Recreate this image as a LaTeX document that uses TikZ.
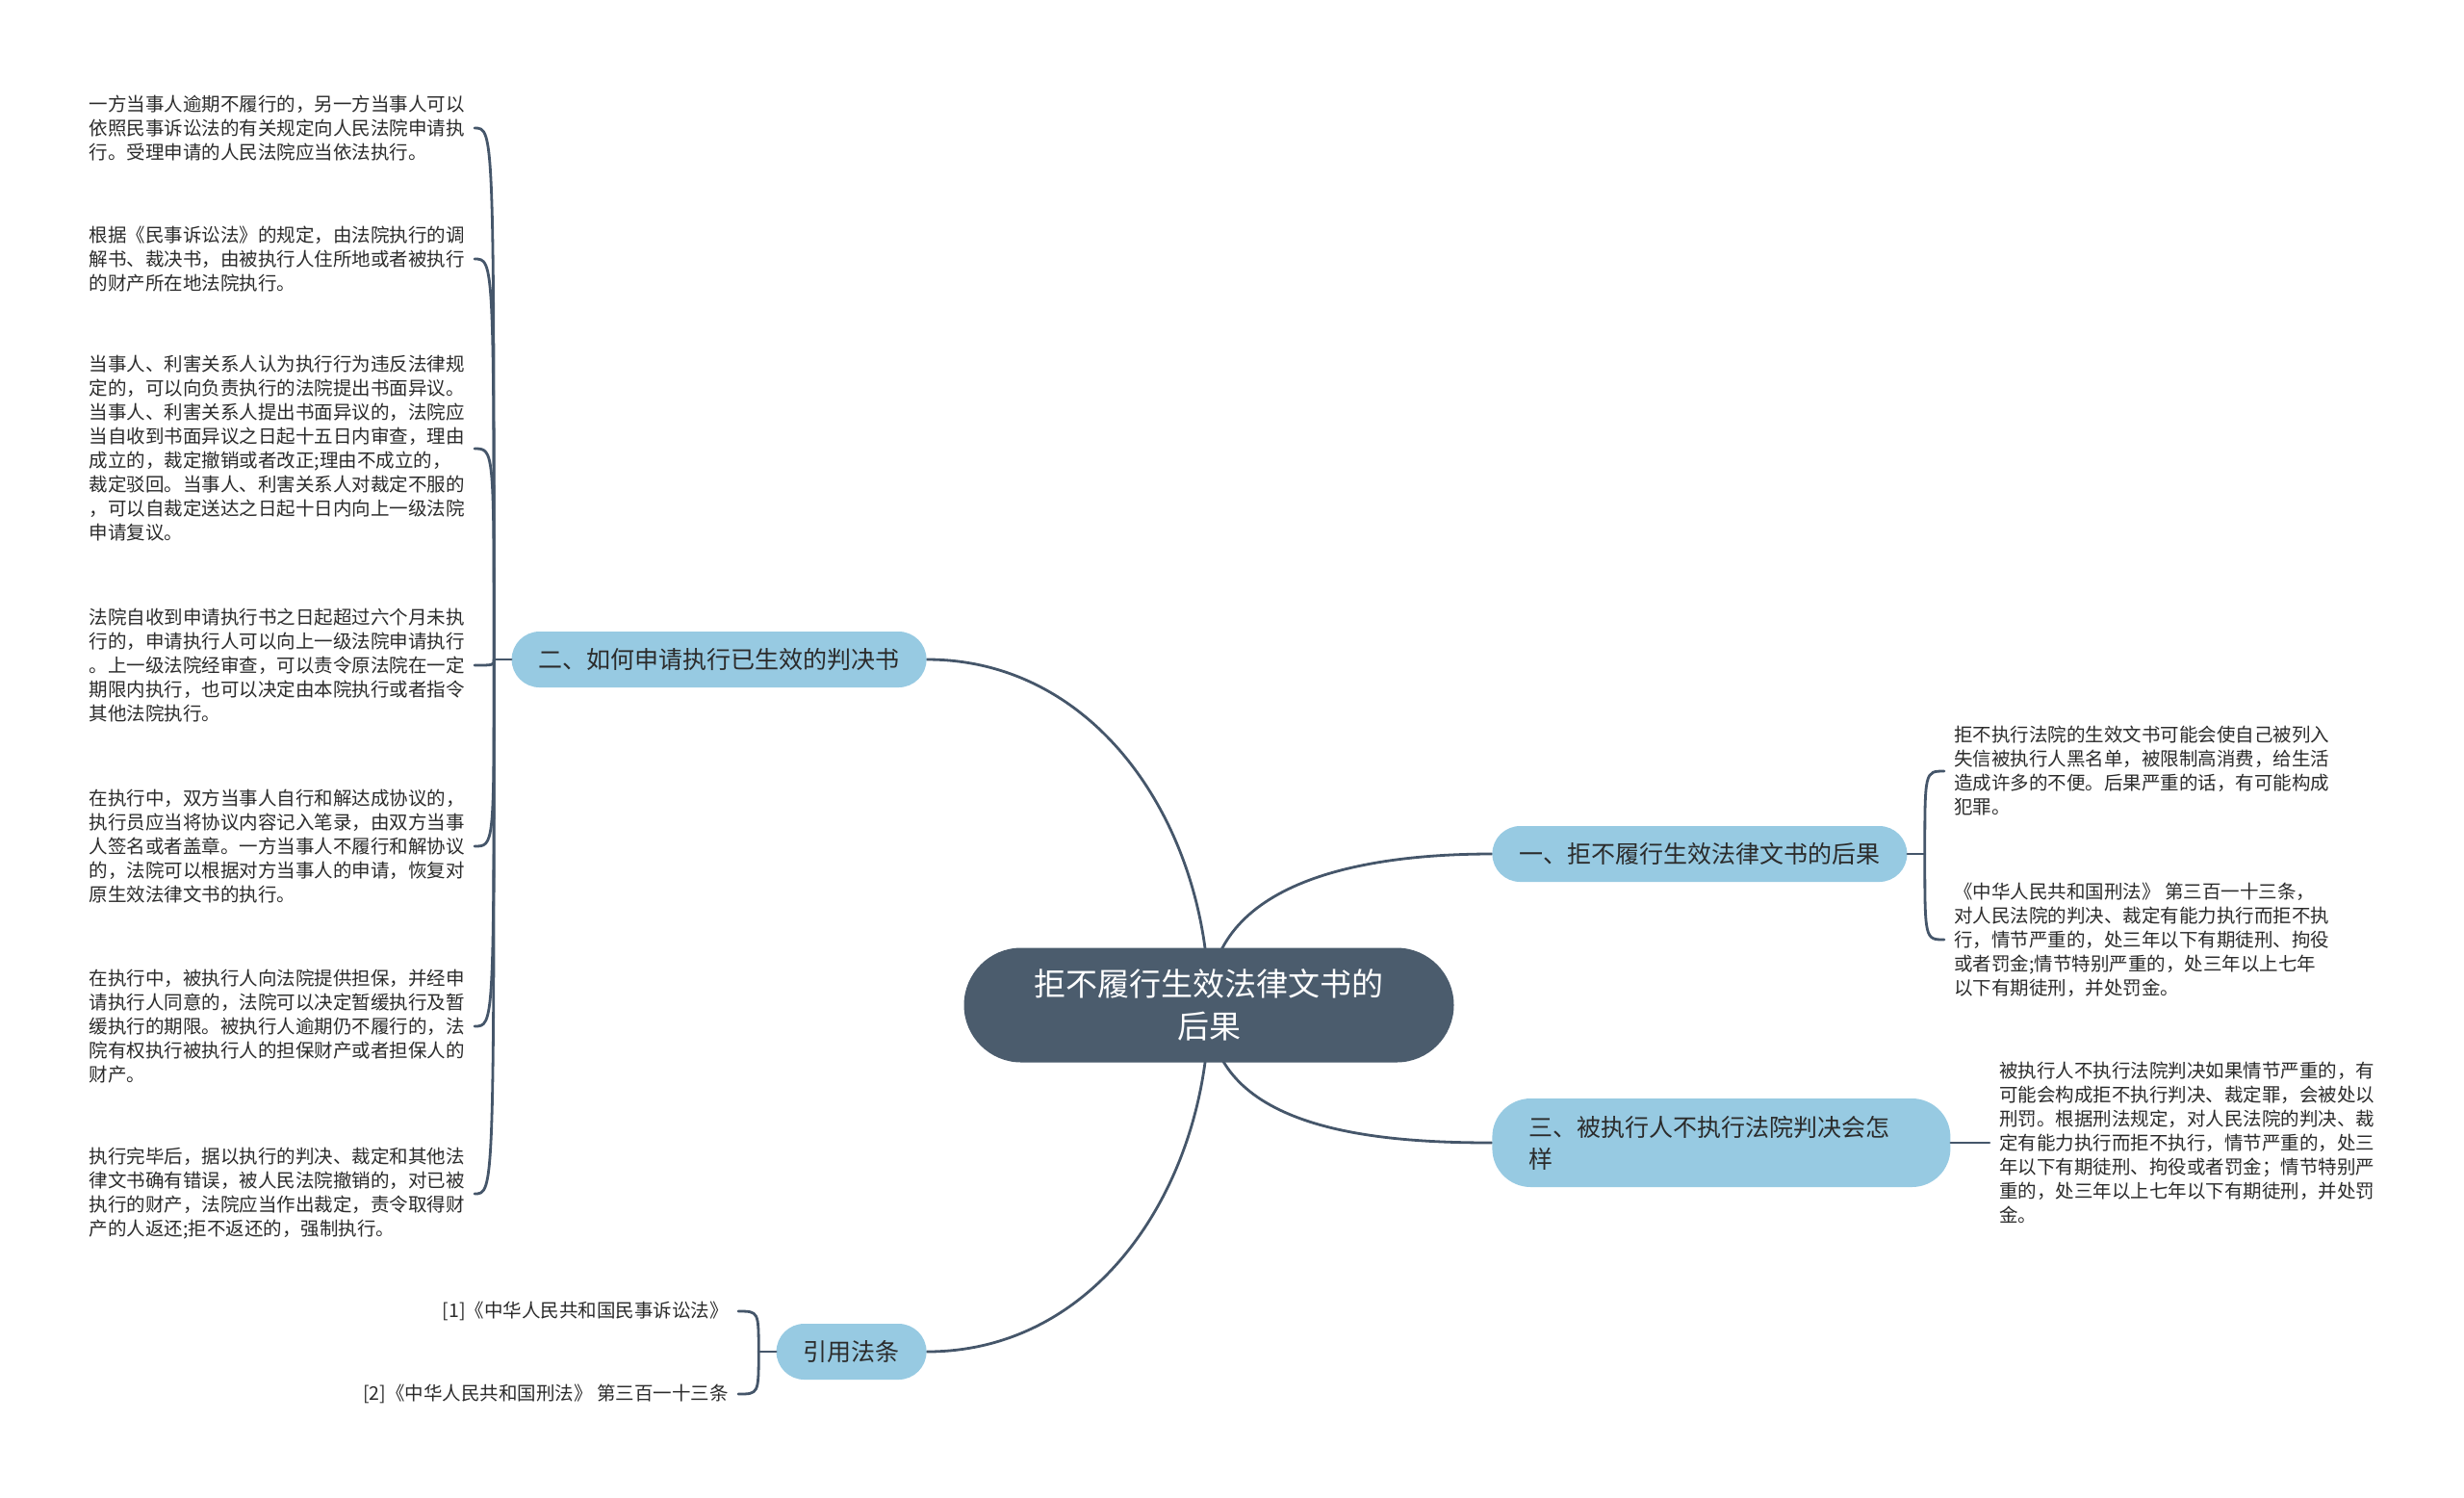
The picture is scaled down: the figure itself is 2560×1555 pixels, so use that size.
\documentclass[tikz,border=0pt]{standalone}
\usepackage{fontspec}
\usepackage{xcolor}
\usepackage{tikz}
\usetikzlibrary{backgrounds}
\newfontfamily\cjk{Noto Sans CJK SC}
\definecolor{rootbg}{HTML}{4B5C6D}
\definecolor{topicbg}{HTML}{97CAE2}
\definecolor{wire}{HTML}{45566A}
\definecolor{ink}{HTML}{2B2B2B}
\tikzset{
  central/.style={fill=rootbg, text=white, rounded corners=29.75pt, minimum width=254.5pt, minimum height=59.5pt, align=center, font=\cjk\fontsize{16.5pt}{22pt}\selectfont},
  topic/.style={fill=topicbg, text=ink, rounded corners=14.5pt, minimum height=29pt, inner xsep=14pt, font=\cjk\fontsize{12.5pt}{16.5pt}\selectfont},
  detail/.style={text=ink, inner xsep=5pt, inner ysep=0pt, align=left, font=\cjk\fontsize{9.75pt}{12.5pt}\selectfont},
  link/.style={draw=wire, line width=1.4pt, line cap=round},
}

\begin{document}
\begin{tikzpicture}[x=0.5pt, y=-0.5pt]
  \useasboundingbox (0,0) rectangle (2560,1555);
  \node[central] (hub) at (1256,1044) {拒不履行生效法律文书的\\后果};

  \node[topic, anchor=west] (t1) at (1550,887) {一、拒不履行生效法律文书的后果};
  \node[topic, anchor=east] (t2) at (963,685) {二、如何申请执行已生效的判决书};
  \node[topic, anchor=west, align=left, text width=200pt, inner xsep=19pt, minimum height=46pt, rounded corners=20pt] (t3) at (1550,1187) {三、被执行人不执行法院判决会怎\\样};
  \node[topic, anchor=east] (t4) at (963,1404) {引用法条};

  \node[detail, anchor=east] (l1) at (493,133) {一方当事人逾期不履行的，另一方当事人可以\\依照民事诉讼法的有关规定向人民法院申请执\\行。受理申请的人民法院应当依法执行。};
  \node[detail, anchor=east] (l2) at (493,269) {根据《民事诉讼法》的规定，由法院执行的调\\解书、裁决书，由被执行人住所地或者被执行\\的财产所在地法院执行。};
  \node[detail, anchor=east] (l3) at (493,466) {当事人、利害关系人认为执行行为违反法律规\\定的，可以向负责执行的法院提出书面异议。\\当事人、利害关系人提出书面异议的，法院应\\当自收到书面异议之日起十五日内审查，理由\\成立的，裁定撤销或者改正;理由不成立的，\\裁定驳回。当事人、利害关系人对裁定不服的\\，可以自裁定送达之日起十日内向上一级法院\\申请复议。};
  \node[detail, anchor=east] (l4) at (493,691) {法院自收到申请执行书之日起超过六个月未执\\行的，申请执行人可以向上一级法院申请执行\\。上一级法院经审查，可以责令原法院在一定\\期限内执行，也可以决定由本院执行或者指令\\其他法院执行。};
  \node[detail, anchor=east] (l5) at (493,879) {在执行中，双方当事人自行和解达成协议的，\\执行员应当将协议内容记入笔录，由双方当事\\人签名或者盖章。一方当事人不履行和解协议\\的，法院可以根据对方当事人的申请，恢复对\\原生效法律文书的执行。};
  \node[detail, anchor=east] (l6) at (493,1066) {在执行中，被执行人向法院提供担保，并经申\\请执行人同意的，法院可以决定暂缓执行及暂\\缓执行的期限。被执行人逾期仍不履行的，法\\院有权执行被执行人的担保财产或者担保人的\\财产。};
  \node[detail, anchor=east] (l7) at (493,1240) {执行完毕后，据以执行的判决、裁定和其他法\\律文书确有错误，被人民法院撤销的，对已被\\执行的财产，法院应当作出裁定，责令取得财\\产的人返还;拒不返还的，强制执行。};

  \node[detail, anchor=west] (r1) at (2020,801) {拒不执行法院的生效文书可能会使自己被列入\\失信被执行人黑名单，被限制高消费，给生活\\造成许多的不便。后果严重的话，有可能构成\\犯罪。};
  \node[detail, anchor=west] (r2) at (2020,976) {《中华人民共和国刑法》 第三百一十三条，\\对人民法院的判决、裁定有能力执行而拒不执\\行，情节严重的，处三年以下有期徒刑、拘役\\或者罚金;情节特别严重的，处三年以上七年\\以下有期徒刑，并处罚金。};
  \node[detail, anchor=west] (r3) at (2067,1187) {被执行人不执行法院判决如果情节严重的，有\\可能会构成拒不执行判决、裁定罪，会被处以\\刑罚。根据刑法规定，对人民法院的判决、裁\\定有能力执行而拒不执行，情节严重的，处三\\年以下有期徒刑、拘役或者罚金；情节特别严\\重的，处三年以上七年以下有期徒刑，并处罚\\金。};

  \node[detail, anchor=east] (c1) at (767,1362) {[1]《中华人民共和国民事诉讼法》};
  \node[detail, anchor=east] (c2) at (767,1448) {[2]《中华人民共和国刑法》 第三百一十三条};

  \coordinate (j1) at ([xshift=9pt]t1.east);
  \coordinate (j2) at ([xshift=-9pt]t2.west);
  \coordinate (j4) at ([xshift=-9pt]t4.west);

  \begin{scope}[on background layer]
    \draw[link] (hub.center) to[out=90,in=180] (t1.west);
    \draw[link] (hub.center) to[out=90,in=0] (t2.east);
    \draw[link] (hub.center) to[out=-90,in=180] (t3.west);
    \draw[link] (hub.center) to[out=-90,in=0] (t4.east);
  \end{scope}

  \draw[link] (t1.east) -- (j1);
  \foreach \n in {r1,r2} {\draw[link] (j1) .. controls (j1 |- \n.west) .. (\n.west);}
  \draw[link] (t2.west) -- (j2);
  \foreach \n in {l1,l2,l3,l4,l5,l6,l7} {\draw[link] (j2) .. controls (j2 |- \n.east) .. (\n.east);}
  \draw[link] (t3.east) -- (r3.west);
  \draw[link] (t4.west) -- (j4);
  \foreach \n in {c1,c2} {\draw[link] (j4) .. controls (j4 |- \n.east) .. (\n.east);}
\end{tikzpicture}
\end{document}
